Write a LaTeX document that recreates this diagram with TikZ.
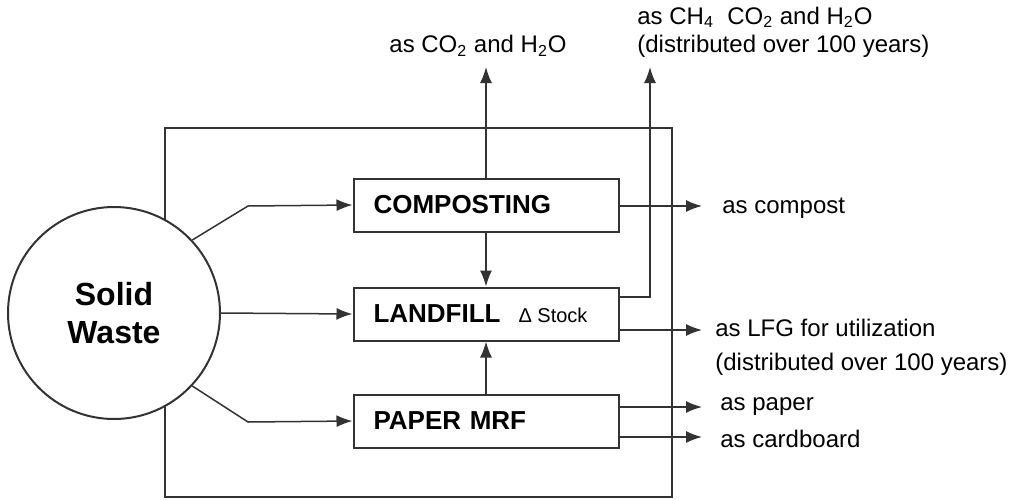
\documentclass[tikz,border=0pt]{standalone}
\usepackage{fontspec}
\setmainfont{Liberation Sans}
\usetikzlibrary{arrows.meta}
\definecolor{linegray}{rgb}{0.2,0.2,0.2}

\begin{document}
\begin{tikzpicture}[x=0.5pt,y=-0.5pt,
    flow/.style={draw=linegray, line width=0.75pt, -{Latex[length=8pt,width=6pt]}},
    unit/.style={draw=linegray, line width=1pt, minimum width=132.5pt, minimum height=26.5pt,
      text width=112.5pt, inner xsep=10pt, align=left, font=\fontsize{13}{15}\selectfont\bfseries},
    outlabel/.style={anchor=west, inner sep=0pt, font=\fontsize{12}{14}\selectfont}]
    \useasboundingbox (0,0) rectangle (1019,499);

    % system boundary
    \draw [linegray, line width=1pt] (165,128) rectangle (672,497);

    \node [circle, draw=linegray, fill=white, line width=1pt, minimum size=106pt, align=center,
      font=\fontsize{16}{19}\selectfont\bfseries] (sw) at (114,313) {Solid\\Waste};

    \node [unit] (comp) at (486,205) {COMPOSTING};
    \node [unit] (lf) at (486,314) {LANDFILL};
    \node [unit] (mrf) at (486,421) {PAPER MRF};
    \node [inner sep=0pt, font=\fontsize{10}{12}\selectfont] (stock) at (553,315) {Δ Stock};

    % waste into the three units
    \draw [flow] (sw.43) -- (248,206) -- (comp.west);
    \draw [flow] (sw.east) -- (lf.west);
    \draw [flow] (sw.-43) -- (248,422) -- (mrf.west);

    \draw [flow] (comp.south) -- (lf.north);
    \draw [flow] (mrf.north) -- (lf.south);

    % outputs
    \coordinate (co2tip) at (486,67);
    \coordinate (ch4tip) at (650,67);
    \coordinate (gasout) at (650,297);
    \coordinate (compost) at (702,206);
    \coordinate (lfg) at (702,330);
    \coordinate (paper) at (702,407);
    \coordinate (board) at (702,437);

    \draw [flow] (comp.north) -- (co2tip);
    \draw [flow] (lf.east |- gasout) -- (gasout) -- (ch4tip);
    \draw [flow] (comp.east |- compost) -- (compost);
    \draw [flow] (lf.east |- lfg) -- (lfg);
    \draw [flow] (mrf.east |- paper) -- (paper);
    \draw [flow] (mrf.east |- board) -- (board);

    \node [outlabel, anchor=center] (co2lbl) at (478,46) {as CO\textsubscript{2} and H\textsubscript{2}O};
    \node [outlabel, align=left] (ch4lbl) at (637,32)
      {as CH\textsubscript{4}~~CO\textsubscript{2} and H\textsubscript{2}O\\(distributed over 100 years)};
    \node [outlabel] (compostlbl) at (722,208) {as compost};
    \node [outlabel, align=left, font=\fontsize{12}{17}\selectfont] (lfglbl) at (715,347)
      {as LFG for utilization\\(distributed over 100 years)};
    \node [outlabel] (paperlbl) at (720,407) {as paper};
    \node [outlabel] (boardlbl) at (720,439) {as cardboard};
\end{tikzpicture}
\end{document}
